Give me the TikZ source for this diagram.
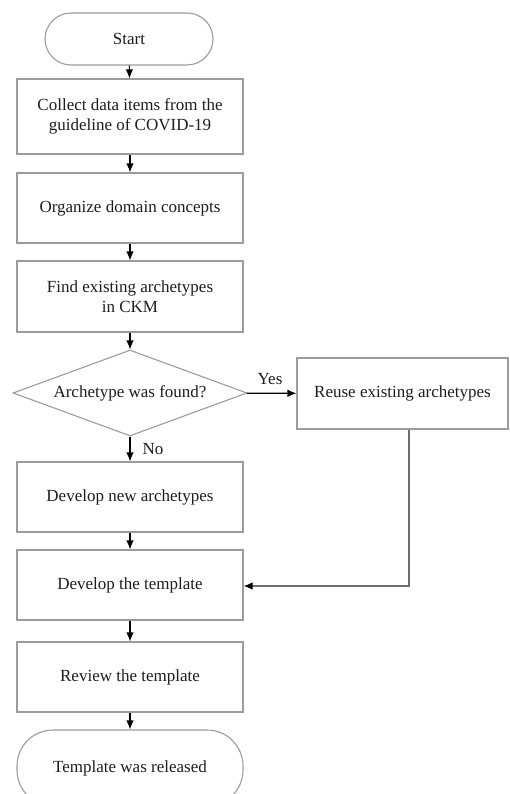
\documentclass[tikz,border=0pt]{standalone}
\usepackage{fontspec}
\setmainfont{Liberation Serif}
\usetikzlibrary{arrows.meta,shapes.geometric}
\definecolor{boxgray}{HTML}{9C9C9C}
\definecolor{linkgray}{HTML}{6E6E6E}
\definecolor{txt}{HTML}{1E1E1E}
\begin{document}
\begin{tikzpicture}[x=1pt,y=-1pt,
  txtfont/.style={font=\fontsize{17}{20}\selectfont, text=txt},
  stepbox/.style={draw=boxgray, line width=1.1pt, minimum width=226pt, align=center, inner sep=0pt, txtfont},
  termbox/.style={stepbox, rounded corners=#1},
  decide/.style={draw=boxgray, line width=1.1pt, diamond, aspect=2.72, minimum width=234pt, minimum height=86pt, inner sep=0pt, align=center, txtfont},
  arr/.style={draw=black, line width=1.2pt, -{Latex[length=9pt,width=7.5pt]}},
  lbl/.style={txtfont, inner sep=0pt}
]
\useasboundingbox (0,0) rectangle (509,794);
\clip (0,0) rectangle (509,794);
\fill[white] (0,0) rectangle (509,794);

\node[termbox=26pt, minimum width=168pt, minimum height=52pt] (start) at (129,39) {Start};
\node[stepbox, minimum height=75pt] (collect) at (130,116.5) {Collect data items from the\\guideline of COVID-19};
\node[stepbox, minimum height=70pt] (organize) at (130,208) {Organize domain concepts};
\node[stepbox, minimum height=71pt] (find) at (130,296.5) {Find existing archetypes\\in CKM};
\node[decide] (found) at (130,393) {Archetype was found?};
\node[stepbox, minimum width=211pt, minimum height=71pt] (reuse) at (402.5,393.5) {Reuse existing archetypes};
\node[stepbox, minimum height=70pt] (newarch) at (130,497) {Develop new archetypes};
\node[stepbox, minimum height=70pt] (tmpl) at (130,585) {Develop the template};
\node[stepbox, minimum height=70pt] (review) at (130,677) {Review the template};
\node[termbox=36pt, minimum height=76pt] (released) at (130,768) {Template was released};

\node[lbl] (yes) at (270,379) {Yes};
\node[lbl] (no) at (153,449) {No};

\draw[arr] (start) -- (collect);
\draw[arr] (collect) -- (organize);
\draw[arr] (organize) -- (find);
\draw[arr] (find) -- (found);
\draw[arr] (found) -- (reuse);
\draw[arr] (found) -- (newarch);
\draw[arr] (newarch) -- (tmpl);
\draw[arr] (tmpl) -- (review);
\draw[arr] (review) -- (released);

\coordinate (bend) at (409,586);
\draw[linkgray, line width=1.8pt] (reuse.south -| bend) -- (bend) -- ([xshift=3pt]tmpl.east |- bend);
\draw[arr] ([xshift=4pt]tmpl.east |- bend) -- (tmpl.east |- bend);
\end{tikzpicture}
\end{document}
